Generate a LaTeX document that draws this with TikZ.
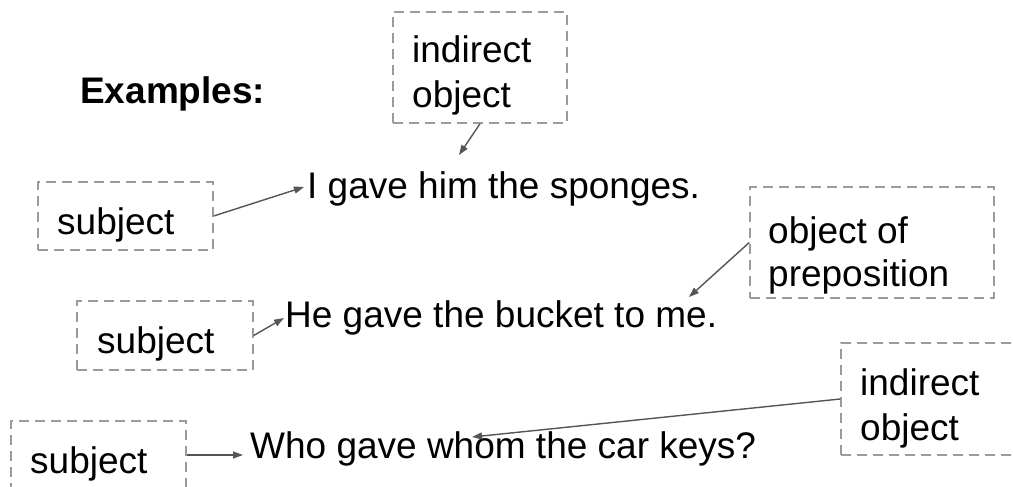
\documentclass[tikz,border=0pt]{standalone}
\usepackage{fontspec}
\setmainfont{Liberation Sans}
\usetikzlibrary{arrows.meta}
\definecolor{boxgray}{RGB}{155,155,155}
\definecolor{arrgray}{RGB}{85,85,85}
\begin{document}
\begin{tikzpicture}[x=1pt,y=-1pt,
  dbox/.style={draw=boxgray,line width=1.4pt,dash pattern=on 10pt off 6pt,
    minimum width=#1,inner sep=0pt},
  txt/.style={anchor=base west,inner sep=0pt,font=\fontsize{37}{44}\selectfont},
  arr/.style={draw=arrgray,line width=1.4pt,-{Triangle[length=10pt,width=7pt]}}]
\useasboundingbox (0,0) rectangle (1013,487);
% boxes
\node[dbox=174pt,minimum height=111pt] (b1) at (480,67.5) {};
\node[dbox=175pt,minimum height=68pt] (b2) at (125.5,216) {};
\node[dbox=244pt,minimum height=111pt] (b3) at (872,242.5) {};
\node[dbox=176pt,minimum height=69pt] (b4) at (165,335.5) {};
\node[dbox=175pt,minimum height=68pt] (b5) at (98.5,455) {};
\node[dbox=189pt,minimum height=112pt] (b6) at (935.5,399) {};
% texts
\node[txt,font=\fontsize{37}{44}\selectfont\bfseries] (ex) at (80,103) {Examples:};
\node[txt] (s1) at (307,198) {I gave him the sponges.};
\node[txt] (s2) at (285,327) {He gave the bucket to me.};
\node[txt] (s3) at (250,458) {Who gave whom the car keys?};
\node[txt] (t1a) at (412,63) {indirect};
\node[txt] (t1b) at (412,107) {object};
\node[txt] (t2) at (57,234) {subject};
\node[txt] (t3a) at (768,243) {object of};
\node[txt] (t3b) at (768,286) {preposition};
\node[txt] (t4) at (97,353) {subject};
\node[txt] (t5) at (30,473) {subject};
\node[txt] (t6a) at (860,395) {indirect};
\node[txt] (t6b) at (860,440) {object};
% arrow tips
\coordinate (p1) at (459,155);
\coordinate (p2) at (304,187);
\coordinate (p3) at (689,297);
\coordinate (p4) at (284,318);
\coordinate (p5) at (243,455);
\coordinate (p6) at (472,437);
\draw[arr] (b1.south) -- (p1);
\draw[arr] (b2.east) -- (p2);
\draw[arr] (b3.west) -- (p3);
\draw[arr] (b4.east) -- (p4);
\draw[arr] (b5.east) -- (p5);
\draw[arr] (b6.west) -- (p6);
\end{tikzpicture}
\end{document}
